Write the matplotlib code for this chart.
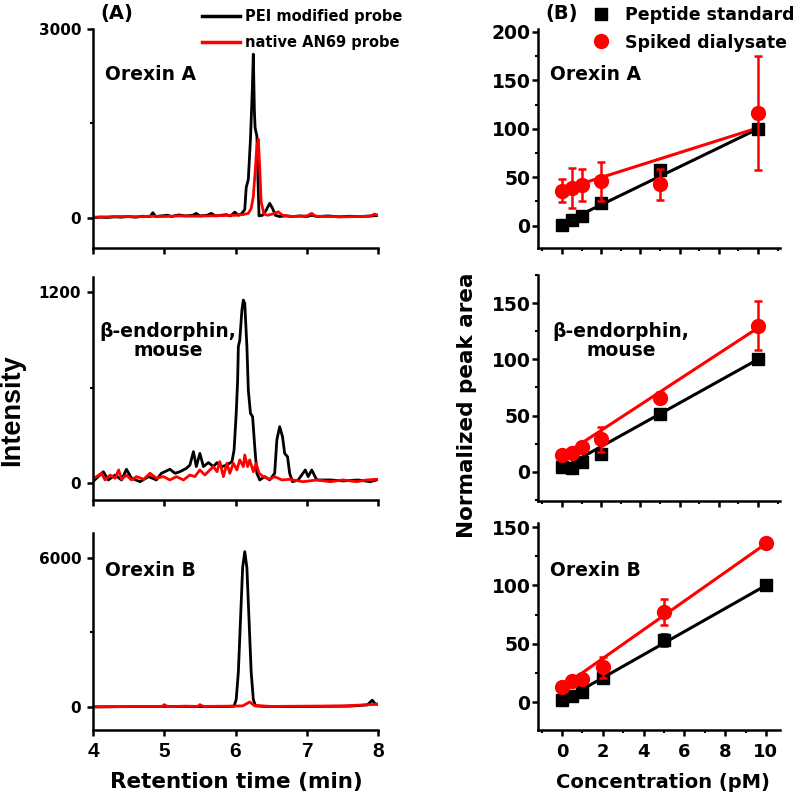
import matplotlib
matplotlib.use("Agg")
import numpy as np
import matplotlib.pyplot as plt
from matplotlib.ticker import MultipleLocator, FixedLocator
from matplotlib.lines import Line2D

plt.rcParams['font.family'] = ['DejaVu Sans']
plt.rcParams['font.weight'] = 'bold'

# ---- chromatograms (A): retention time (min) vs intensity ----
ora_pei_t = [4.00, 4.10, 4.20, 4.30, 4.40, 4.50, 4.60, 4.70, 4.80, 4.84, 4.88, 4.95, 5.05, 5.10,
             5.20, 5.30, 5.40, 5.45, 5.50, 5.60, 5.66, 5.72, 5.80, 5.87, 5.93, 5.99, 6.04, 6.08,
             6.13, 6.15, 6.18, 6.21, 6.235, 6.25, 6.265, 6.275, 6.30, 6.315, 6.33, 6.38, 6.43,
             6.48, 6.52, 6.56, 6.62, 6.70, 6.80, 6.90, 7.00, 7.07, 7.15, 7.30, 7.45, 7.60, 7.75,
             7.90, 8.00]
ora_pei_i = [0, 10, 5, 15, 10, 20, 10, 25, 20, 80, 20, 30, 40, 20,
             45, 30, 40, 70, 30, 40, 70, 30, 40, 50, 30, 90, 40, 60,
             130, 480, 610, 1250, 2000, 2600, 1700, 1430, 1300, 600, 30, 40, 120,
             230, 150, 40, 20, 30, 20, 30, 20, 40, 20, 30, 15, 25, 20,
             30, 35]
ora_an69_t = [4.00, 4.20, 4.40, 4.60, 4.80, 5.00, 5.20, 5.40, 5.60, 5.80, 6.00, 6.10, 6.18, 6.22,
              6.25, 6.28, 6.30, 6.32, 6.34, 6.36, 6.40, 6.45, 6.52, 6.60, 6.66, 6.80, 7.00, 7.07,
              7.12, 7.30, 7.50, 7.70, 7.90, 7.95, 8.00]
ora_an69_i = [10, 15, 20, 15, 25, 20, 30, 25, 30, 35, 40, 50, 70, 150,
              340, 800, 1140, 1250, 800, 250, 60, 40, 60, 95, 40, 20, 30, 70,
              25, 20, 15, 20, 25, 60, 40]

bend_pei_t = [3.98, 4.145, 4.215, 4.31, 4.40, 4.47, 4.54, 4.66, 4.78, 4.89, 4.96, 5.08, 5.15, 5.22,
              5.31, 5.36, 5.41, 5.45, 5.50, 5.55, 5.62, 5.69, 5.74, 5.81, 5.88, 5.95, 5.98, 6.01,
              6.03, 6.04, 6.06, 6.09, 6.11, 6.13, 6.16, 6.18, 6.21, 6.24, 6.27, 6.30, 6.34, 6.41,
              6.48, 6.55, 6.58, 6.62, 6.66, 6.69, 6.73, 6.76, 6.80, 6.88, 6.98, 7.02, 7.07, 7.14,
              7.33, 7.51, 7.72, 7.89, 7.98]
bend_pei_i = [0, 71, 19, 50, 19, 86, 30, 8, 40, 19, 61, 86, 61, 71,
              92, 113, 197, 103, 186, 103, 128, 103, 128, 103, 113, 134, 207, 438,
              647, 857, 898, 1087, 1150, 1129, 857, 584, 438, 417, 228, 61, 19, 40,
              19, 61, 270, 354, 291, 186, 165, 61, 8, 19, 82, 40, 82, 19,
              19, 13, 19, 8, 19]
bend_an69_t = [3.98, 4.05, 4.12, 4.17, 4.24, 4.31, 4.36, 4.40, 4.47, 4.54, 4.61, 4.71, 4.80, 4.89,
               4.99, 5.08, 5.17, 5.27, 5.36, 5.43, 5.50, 5.57, 5.64, 5.69, 5.74, 5.78, 5.83, 5.88,
               5.92, 5.97, 6.02, 6.06, 6.11, 6.13, 6.17, 6.20, 6.25, 6.29, 6.33, 6.39, 6.48, 6.55,
               6.65, 6.76, 6.95, 7.14, 7.33, 7.51, 7.70, 7.84, 7.98]
bend_an69_i = [19, 40, 61, 19, 50, 30, 82, 23, 50, 19, 40, 23, 61, 30,
               40, 19, 40, 19, 50, 40, 82, 50, 82, 103, 71, 134, 40, 124,
               61, 124, 82, 145, 103, 176, 103, 145, 71, 124, 61, 40, 23, 40,
               19, 23, 8, 19, 8, 19, 8, 19, 23]

orb_pei_t = [4.00, 4.50, 5.00, 5.50, 5.90, 5.98, 6.01, 6.04, 6.07, 6.10, 6.13, 6.16, 6.19, 6.22,
             6.25, 6.28, 6.40, 6.80, 7.20, 7.60, 7.85, 7.92, 7.96, 8.00]
orb_pei_i = [0, 10, 20, 10, 15, 30, 300, 1400, 3500, 5600, 6250, 5600, 3500, 1400,
             300, 40, 20, 10, 20, 30, 80, 270, 120, 100]
orb_an69_t = [4.00, 4.50, 4.97, 5.00, 5.05, 5.30, 5.47, 5.50, 5.55, 5.90, 6.10, 6.20, 6.26, 6.50,
              7.00, 7.50, 7.80, 7.95, 8.00]
orb_an69_i = [0, 15, 20, 90, 10, 30, 20, 90, 20, 30, 40, 200, 60, 20,
              30, 40, 80, 100, 120]

# ---- calibration (B): concentration (pM) vs normalized peak area ----
conc = [0, 0.5, 1, 2, 5, 10]
ora_std = [1, 6, 10, 23, 58, 100]
ora_std_err = [1, 1, 1, 2, 5, 2]
ora_spk = [36, 39, 42, 46, 43, 116]
ora_spk_err = [12, 21, 17, 20, 16, 59]
bend_std = [4, 3, 9, 16, 51, 100]
bend_std_err = [1, 1, 1, 2, 4, 1]
bend_spk = [15, 17, 22, 29, 66, 130]
bend_spk_err = [2, 2, 3, 11, 5, 22]
orb_std = [1.5, 5, 9, 21, 53, 100]
orb_std_err = [1, 1, 1, 2, 5, 1]
orb_spk = [13, 18, 20, 30, 77, 136]
orb_spk_err = [2, 3, 3, 9, 11, 4]
# linear fits: (slope, intercept)
ora_fit = [(9.8, 2), (6.4, 37)]
bend_fit = [(9.7, 3), (11.4, 14)]
orb_fit = [(9.9, 1), (12.3, 12.8)]

W, H = 800, 796
fig = plt.figure(figsize=(8, 7.96), dpi=100)


def px_axes(x0, y0, x1, y1):
    return fig.add_axes([x0 / W, 1 - y1 / H, (x1 - x0) / W, (y1 - y0) / H])


def style(ax):
    for s in ['top', 'right']:
        ax.spines[s].set_visible(False)
    for s in ['left', 'bottom']:
        ax.spines[s].set_linewidth(1.8)
    ax.tick_params(which='major', direction='out', length=4.5, width=1.8)
    ax.tick_params(which='minor', direction='out', length=2.5, width=1.5)


# left column
left_specs = [
    (29, 248, ora_pei_t, ora_pei_i, ora_an69_t, ora_an69_i, 3000, (-480, 3000)),
    (277, 500, bend_pei_t, bend_pei_i, bend_an69_t, bend_an69_i, 1200, (-107, 1295)),
    (533, 730, orb_pei_t, orb_pei_i, orb_an69_t, orb_an69_i, 6000, (-930, 7000)),
]
for i, (y0, y1, bt, bi, rt, ri, ymax, ylim) in enumerate(left_specs):
    ax = px_axes(93, y0, 378, y1)
    style(ax)
    ax.plot(bt, bi, color='black', lw=2.0)
    ax.plot(rt, ri, color='#ff0000', lw=2.0)
    ax.set_xlim(4, 8)
    ax.set_ylim(*ylim)
    ax.yaxis.set_major_locator(FixedLocator([0, ymax]))
    ax.yaxis.set_minor_locator(FixedLocator([ymax / 2]))
    ax.xaxis.set_major_locator(MultipleLocator(1))
    ax.tick_params(axis='y', labelsize=11, pad=4)
    if i < 2:
        ax.tick_params(axis='x', labelbottom=False)
    else:
        ax.tick_params(axis='x', labelsize=15, pad=4)
        for lab in ax.get_xticklabels():
            lab.set_family(['Liberation Sans Narrow', 'Liberation Sans', 'DejaVu Sans'])

# right column
right_specs = [
    (29, 248, ora_std, ora_std_err, ora_spk, ora_spk_err, ora_fit, (-23, 203), 200, (-1.22, 11.12)),
    (275, 501, bend_std, bend_std_err, bend_spk, bend_spk_err, bend_fit, (-26, 175), 150, (-1.22, 11.12)),
    (523, 730, orb_std, orb_std_err, orb_spk, orb_spk_err, orb_fit, (-24, 153.5), 150, (-1.18, 10.69)),
]
for i, (y0, y1, sv, se, pv, pe, fit, ylim, ytop, xlim) in enumerate(right_specs):
    ax = px_axes(538, y0, 780, y1)
    style(ax)
    xs = np.array([0, 10])
    ax.plot(xs, fit[0][0] * xs + fit[0][1], color='black', lw=2.2, zorder=2)
    ax.plot(xs, fit[1][0] * xs + fit[1][1], color='#ff0000', lw=2.2, zorder=3)
    ax.errorbar(conc, sv, yerr=se, fmt='s', color='black', ms=8.5, capsize=3,
                elinewidth=1.8, capthick=1.8, zorder=4)
    ax.errorbar(conc, pv, yerr=pe, fmt='o', color='#ff0000', ms=10, capsize=3,
                elinewidth=1.8, capthick=1.8, zorder=5)
    ax.set_xlim(*xlim)
    ax.set_ylim(*ylim)
    ax.yaxis.set_major_locator(FixedLocator(list(range(0, ytop + 1, 50))))
    ax.yaxis.set_minor_locator(MultipleLocator(25))
    ax.xaxis.set_major_locator(MultipleLocator(2))
    ax.xaxis.set_minor_locator(MultipleLocator(1))
    ax.tick_params(axis='y', labelsize=13.5, pad=1)
    if i < 2:
        ax.tick_params(axis='x', labelbottom=False)
    else:
        ax.tick_params(axis='x', labelsize=13, pad=5)


# panel labels and peptide names
def ftext(x, y, s, **kw):
    fig.text(x / W, 1 - y / H, s, **kw)


ftext(100, 13, '(A)', fontsize=14, ha='left', va='center')
ftext(545, 13, '(B)', fontsize=14, ha='left', va='center')
for xl in (105, 550):
    ftext(xl, 74, 'Orexin A', fontsize=13.5, ha='left', va='center')
    ftext(xl, 571, 'Orexin B', fontsize=13.5, ha='left', va='center')
ftext(168, 341, 'β-endorphin,\nmouse', fontsize=13.5, ha='center', va='center',
      linespacing=1.05)
ftext(621, 341, 'β-endorphin,\nmouse', fontsize=13.5, ha='center', va='center',
      linespacing=1.05)

# axis titles
ftext(236, 782, 'Retention time (min)', fontsize=15.5, ha='center', va='center')
ftext(663, 782, 'Concentration (pM)', fontsize=14, ha='center', va='center')
ftext(467, 405, 'Normalized peak area', fontsize=15.5, ha='center', va='center',
      rotation=90)
ftext(12, 410, 'Intensity', fontsize=19.5, ha='center', va='center', rotation=90,
      family=['Liberation Sans Narrow', 'Liberation Sans', 'DejaVu Sans'])

# legends
hl = [Line2D([], [], color='black', lw=2.5), Line2D([], [], color='#ff0000', lw=2.5)]
fig.legend(hl, ['PEI modified probe', 'native AN69 probe'], loc='upper left',
           bbox_to_anchor=(202 / W, 1 - 9 / H), frameon=False, fontsize=10.5,
           handlelength=2.6, handletextpad=0.35, labelspacing=0.75,
           borderpad=0, borderaxespad=0)
hm = [Line2D([], [], color='black', marker='s', ls='none', ms=8.5),
      Line2D([], [], color='#ff0000', marker='o', ls='none', ms=10)]
fig.legend(hm, ['Peptide standard', 'Spiked dialysate'], loc='upper left',
           bbox_to_anchor=(592 / W, 1 - 6 / H), frameon=False, fontsize=12.5,
           handlelength=1.0, handletextpad=0.9, labelspacing=0.55,
           borderpad=0, borderaxespad=0)

fig.savefig('out.png', dpi=100)
